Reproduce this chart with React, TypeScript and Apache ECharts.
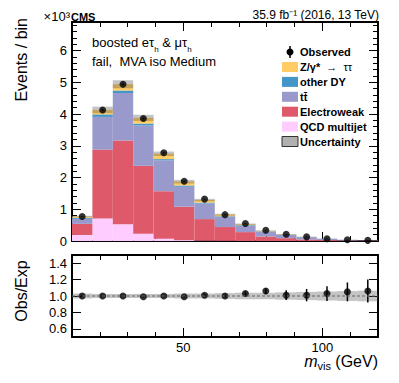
import React, { useEffect, useRef } from "react";
import * as echarts from "echarts";

// ---------------- data ----------------
const binEdges = [10, 17.33, 24.67, 32, 39.33, 46.67, 54, 61.33, 68.67, 76, 83.33, 90.67, 98, 105.33, 112.67, 120];
// contributions (x10^3 events / bin), stacked bottom -> top
const qcd = [0.19, 0.71, 0.53, 0.23, 0.07, 0.03, 0.01, 0.005, 0, 0, 0, 0, 0, 0, 0];
const electroweak = [0.35, 2.17, 2.64, 2.14, 1.5, 1.05, 0.68, 0.435, 0.28, 0.14, 0.09, 0.05, 0.03, 0.015, 0.01];
const ttbar = [0.16, 1.03, 1.49, 1.27, 0.97, 0.63, 0.49, 0.32, 0.2, 0.16, 0.1, 0.07, 0.035, 0.02, 0.01];
const otherDY = [0.03, 0.08, 0.08, 0.06, 0.04, 0.04, 0.03, 0.02, 0.02, 0.01, 0.01, 0.005, 0.003, 0.002, 0.001];
const ztautau = [0.04, 0.14, 0.2, 0.18, 0.17, 0.12, 0.08, 0.05, 0.03, 0.01, 0.01, 0.005, 0.002, 0.001, 0.0];
const observed = [0.77, 4.13, 4.94, 3.86, 2.78, 1.88, 1.32, 0.83, 0.55, 0.34, 0.21, 0.13, 0.07, 0.04, 0.02];
const relUncertainty = [0.03, 0.025, 0.025, 0.025, 0.025, 0.03, 0.03, 0.035, 0.04, 0.04, 0.045, 0.05, 0.055, 0.06, 0.065];
const ratio = [1.0, 1.0, 1.0, 0.99, 1.0, 0.99, 1.01, 1.0, 1.03, 1.06, 1.01, 1.01, 1.03, 1.05, 1.06];
const ratioErr = [0.012, 0.006, 0.005, 0.006, 0.007, 0.009, 0.011, 0.015, 0.025, 0.035, 0.06, 0.075, 0.09, 0.115, 0.14];

const yTicksMain = [0, 1, 2, 3, 4, 5, 6];
const yTicksRatio = [0.6, 0.8, 1.0, 1.2, 1.4];
const xMajorTicks = [50, 100];

const components = [
  { name: "QCD multijet", values: qcd, color: "#FFCCFF" },
  { name: "Electroweak", values: electroweak, color: "#DE5A6A" },
  { name: "tt\u0304", values: ttbar, color: "#9999CC" },
  { name: "other DY", values: otherDY, color: "#4496C8" },
  { name: "Z/γ* → ττ", values: ztautau, color: "#FFCC66" },
];

const legendRows = [
  { label: "{b|Z/γ*}{n|  →  ττ}", color: "#FFCC66" },
  { label: "{b|other DY}", color: "#4496C8" },
  { label: "{b|tt\u0304}", color: "#9999CC" },
  { label: "{b|Electroweak}", color: "#DE5A6A" },
  { label: "{b|QCD multijet}", color: "#FFCCFF" },
  { label: "{b|Uncertainty}", color: "#B0B0B0" },
];

const F = "'Liberation Sans', Arial, Helvetica, sans-serif";
const BAND = "rgba(70,70,70,0.32)";

// ---------------- helpers ----------------
const nB = binEdges.length - 1;
const centers = Array.from({ length: nB }, (_, i) => (binEdges[i] + binEdges[i + 1]) / 2);

const rectRender = (fill: string) => (params: any, api: any) => {
  const x0 = api.value(0), x1 = api.value(1), y0 = api.value(2), y1 = api.value(3);
  const a = api.coord([x0, y1]);
  const b = api.coord([x1, y0]);
  return {
    type: "rect",
    shape: { x: a[0], y: a[1], width: b[0] - a[0], height: b[1] - a[1] },
    style: { fill },
  };
};

const errRender = (params: any, api: any) => {
  const x = api.value(0), lo = api.value(1), hi = api.value(2);
  const a = api.coord([x, lo]);
  const b = api.coord([x, hi]);
  return {
    type: "line",
    shape: { x1: a[0], y1: a[1], x2: b[0], y2: b[1] },
    style: { stroke: "#000", lineWidth: 1.5 },
  };
};

function buildOption() {
  const series: any[] = [];
  const cum = new Array(nB).fill(0);
  components.forEach((c) => {
    const data = c.values.map((v, i) => {
      const lo = cum[i];
      cum[i] += v;
      return [binEdges[i], binEdges[i + 1], lo, cum[i]];
    });
    series.push({
      type: "custom", xAxisIndex: 0, yAxisIndex: 0, clip: true,
      renderItem: rectRender(c.color), data, silent: true,
    });
  });
  const total = cum.slice();
  series.push({
    type: "custom", xAxisIndex: 0, yAxisIndex: 0, clip: true,
    renderItem: rectRender(BAND),
    data: total.map((t, i) => [binEdges[i], binEdges[i + 1], t * (1 - relUncertainty[i]), t * (1 + relUncertainty[i])]),
  });
  series.push({
    type: "custom", xAxisIndex: 0, yAxisIndex: 0,
    renderItem: errRender,
    data: observed.map((o, i) => [centers[i], o * (1 - ratioErr[i] / ratio[i]), o * (1 + ratioErr[i] / ratio[i])]),
  });
  series.push({
    type: "scatter", xAxisIndex: 0, yAxisIndex: 0, symbol: "circle", symbolSize: 7,
    itemStyle: { color: "#000" }, data: observed.map((o, i) => [centers[i], o]),
  });
  // ratio panel
  series.push({
    type: "custom", xAxisIndex: 2, yAxisIndex: 2, clip: true,
    renderItem: rectRender(BAND),
    data: relUncertainty.map((u, i) => [binEdges[i], binEdges[i + 1], 1 - u, 1 + u]),
  });
  series.push({
    type: "line", xAxisIndex: 2, yAxisIndex: 2, symbol: "none",
    lineStyle: { color: "#666", width: 1, type: [3, 2] },
    data: [[binEdges[0], 1], [binEdges[nB], 1]],
  });
  series.push({
    type: "custom", xAxisIndex: 2, yAxisIndex: 2, clip: true,
    renderItem: errRender,
    data: ratio.map((r, i) => [centers[i], r - ratioErr[i], r + ratioErr[i]]),
  });
  series.push({
    type: "scatter", xAxisIndex: 2, yAxisIndex: 2, symbol: "circle", symbolSize: 7,
    itemStyle: { color: "#000" }, data: ratio.map((r, i) => [centers[i], r]),
  });

  const line2 = { show: true, onZero: false, lineStyle: { color: "#000", width: 2 } };
  const noSplit = { show: false };
  const xMinor = (gridIndex: number, position: string) => ({
    type: "value", gridIndex, position, min: 10, max: 120, interval: 10,
    axisLine: line2, axisTick: { show: true, inside: true, length: 5, lineStyle: { color: "#000", width: 1 } },
    axisLabel: { show: false }, splitLine: noSplit,
  });
  const xMajor = (gridIndex: number, position: string, labels: boolean) => ({
    type: "value", gridIndex, position, min: 10, max: 120,
    axisLine: { show: false },
    axisTick: { show: true, inside: true, length: 9, customValues: xMajorTicks, lineStyle: { color: "#000", width: 1 } },
    axisLabel: labels
      ? { show: true, customValues: xMajorTicks, fontFamily: F, fontSize: 13, color: "#000", margin: 4 }
      : { show: false },
    splitLine: noSplit,
  });
  const yMain = (position: string, labels: boolean) => ({
    type: "value", gridIndex: 0, position, min: 0, max: 6.9, interval: 1,
    axisLine: line2,
    axisTick: { show: true, inside: true, length: 9, customValues: yTicksMain, lineStyle: { color: "#000", width: 1 } },
    minorTick: { show: true, splitNumber: 5, length: 5, lineStyle: { color: "#000", width: 1 } },
    axisLabel: labels
      ? { show: true, customValues: yTicksMain, fontFamily: F, fontSize: 13, color: "#000", margin: 5 }
      : { show: false },
    splitLine: noSplit, minorSplitLine: { show: false },
  });
  const yRatio = (position: string, labels: boolean) => ({
    type: "value", gridIndex: 1, position, min: 0.5, max: 1.5,
    axisLine: line2,
    axisTick: { show: true, inside: true, length: 9, customValues: yTicksRatio, lineStyle: { color: "#000", width: 1 } },
    axisLabel: labels
      ? { show: true, customValues: yTicksRatio, fontFamily: F, fontSize: 13, color: "#000", margin: 5, formatter: (v: number) => v.toFixed(1) }
      : { show: false },
    splitLine: noSplit,
  });

  const graphic: any[] = [
    { type: "text", x: 70, y: 16, style: { text: "×10³", font: `13px ${F}`, fill: "#000", align: "right", verticalAlign: "middle" } },
    { type: "text", x: 71, y: 16.5, style: { text: "CMS", font: `bold 11px ${F}`, fill: "#000", align: "left", verticalAlign: "middle" } },
    { type: "text", x: 379, y: 14.5, style: { text: "35.9 fb⁻¹ (2016, 13 TeV)", font: `12px ${F}`, fill: "#000", align: "right", verticalAlign: "middle" } },
    {
      type: "text", x: 92, y: 42, style: {
        text: "{n|boosted eτ}{s|h}{n| & μτ}{s|h}", align: "left", verticalAlign: "middle",
        rich: {
          n: { fontFamily: F, fontSize: 13, lineHeight: 22, verticalAlign: "middle", fill: "#000" },
          s: { fontFamily: F, fontSize: 8, lineHeight: 8, verticalAlign: "bottom", fill: "#000" },
        },
      },
    },
    { type: "text", x: 92, y: 61.5, style: { text: "fail,  MVA iso Medium", font: `13px ${F}`, fill: "#000", align: "left", verticalAlign: "middle" } },
    { type: "text", x: 21, y: 18, rotation: Math.PI / 2, style: { text: "Events / bin", font: `16px ${F}`, fill: "#000", align: "right", verticalAlign: "middle" } },
    { type: "text", x: 21, y: 291, rotation: Math.PI / 2, style: { text: "Obs/Exp", font: `16px ${F}`, fill: "#000", align: "center", verticalAlign: "middle" } },
    {
      type: "text", x: 378, y: 361, style: {
        text: "{i|m}{s|vis}{n| (GeV)}", align: "right", verticalAlign: "middle",
        rich: {
          i: { fontFamily: F, fontSize: 16, fontStyle: "italic", lineHeight: 20, verticalAlign: "middle", fill: "#000" },
          s: { fontFamily: F, fontSize: 11, lineHeight: 10, verticalAlign: "bottom", fill: "#000" },
          n: { fontFamily: F, fontSize: 16, lineHeight: 20, verticalAlign: "middle", fill: "#000" },
        },
      },
    },
    // legend: observed
    { type: "line", shape: { x1: 290, y1: 46, x2: 290, y2: 58 }, style: { stroke: "#000", lineWidth: 1.5 } },
    { type: "circle", shape: { cx: 290, cy: 52, r: 3.5 }, style: { fill: "#000" } },
    { type: "text", x: 300, y: 52, style: { text: "Observed", font: `bold 11px ${F}`, fill: "#000", align: "left", verticalAlign: "middle" } },
  ];
  legendRows.forEach((r, k) => {
    const cy = 67 + k * 14.9;
    const isUnc = k === legendRows.length - 1;
    graphic.push({
      type: "rect", shape: { x: 282, y: cy - 5, width: 16, height: 10 },
      style: { fill: r.color, stroke: isUnc ? "#333" : null, lineWidth: isUnc ? 1 : 0 },
    });
    graphic.push({
      type: "text", x: 300, y: cy, style: {
        text: r.label, align: "left", verticalAlign: "middle",
        rich: {
          b: { fontFamily: F, fontSize: 11, fontWeight: "bold", fill: "#000" },
          n: { fontFamily: F, fontSize: 11, fill: "#000" },
        },
      },
    });
  });

  return {
    animation: false,
    backgroundColor: "#fff",
    grid: [
      { left: 72, top: 22, width: 306, height: 219 },
      { left: 72, top: 255, width: 306, height: 82 },
      { left: 72, top: 22, width: 306, height: 219 },
      { left: 72, top: 255, width: 306, height: 82 },
    ],
    xAxis: [
      xMinor(0, "bottom"),
      xMinor(0, "top"),
      xMinor(1, "bottom"),
      xMinor(1, "top"),
      xMajor(2, "bottom", false),
      xMajor(2, "top", false),
      xMajor(3, "bottom", true),
      xMajor(3, "top", false),
    ],
    yAxis: [
      yMain("left", true),
      yMain("right", false),
      yRatio("left", true),
      yRatio("right", false),
      { type: "value", gridIndex: 2, show: false, min: 0, max: 1 },
      { type: "value", gridIndex: 3, show: false, min: 0, max: 1 },
    ],
    series,
    graphic,
  };
}

export default function App() {
  const ref = useRef<HTMLDivElement>(null);
  useEffect(() => {
    const chart = echarts.init(ref.current!, null, { renderer: "svg" });
    chart.setOption(buildOption() as any);
    return () => chart.dispose();
  }, []);
  return <div ref={ref} style={{ position: "fixed", left: 0, top: 0, width: 399, height: 383 }} />;
}
